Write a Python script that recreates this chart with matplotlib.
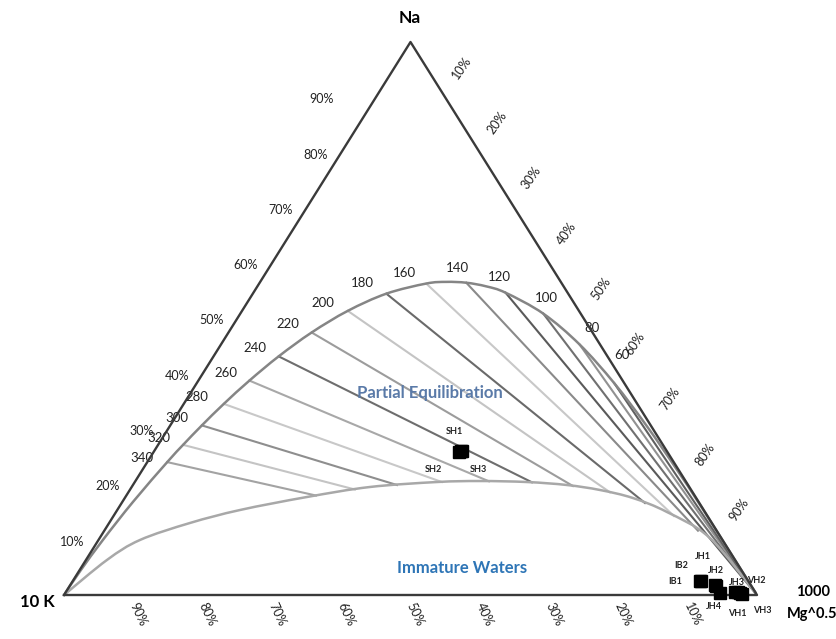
import matplotlib
matplotlib.use('Agg')
import matplotlib.pyplot as plt
from matplotlib.path import Path
from matplotlib.patches import PathPatch
import numpy as np

plt.rcParams['font.family'] = ['Lato', 'DejaVu Sans']

# ternary fractions: na = Na/1000, mg = Mg^0.5, K/100 is the rest
# full equilibrium curve, from the 10K corner to the Mg corner
eq_na = [0, 0.0454, 0.0998, 0.1686, 0.2403, 0.2715, 0.3067, 0.3456, 0.3877, 0.4315,
         0.4747, 0.5138, 0.5449, 0.5632, 0.5662, 0.5647, 0.5582, 0.5466, 0.5088,
         0.4531, 0.3832, 0.3056, 0.2273, 0.1558, 0]
eq_mg = [0, 0.0018, 0.0064, 0.0154, 0.0288, 0.0361, 0.0456, 0.0578, 0.0737, 0.0940,
         0.1200, 0.1526, 0.1927, 0.2411, 0.2686, 0.2981, 0.3299, 0.3639, 0.4372,
         0.5174, 0.6023, 0.6881, 0.7704, 0.8435, 1]

# immature waters boundary
low_na = [0, 0.0633, 0.0995, 0.1302, 0.1537, 0.1772, 0.1953, 0.2043, 0.2061,
          0.2043, 0.1989, 0.1899, 0.1754, 0.1501, 0.1031, 0]
low_mg = [0, 0.0303, 0.0599, 0.1166, 0.1771, 0.2619, 0.3437, 0.4359, 0.4971,
          0.5658, 0.6263, 0.6784, 0.7332, 0.7950, 0.8805, 1]

# K-Na isotherms (deg C): start on the equilibrium curve, end on the lower curve
temps = [340, 320, 300, 280, 260, 240, 220, 200, 180, 160, 140, 120, 100, 80, 60]
iso_na = [0.2403, 0.2715, 0.3067, 0.3456, 0.3877, 0.4315, 0.4747, 0.5138, 0.5449,
          0.5632, 0.5647, 0.5466, 0.5088, 0.4531, 0.3832]
iso_mg = [0.0288, 0.0361, 0.0456, 0.0578, 0.0737, 0.0940, 0.1200, 0.1526, 0.1927,
          0.2411, 0.2981, 0.3639, 0.4372, 0.5174, 0.6023]
end_na = [0.1799, 0.1908, 0.1989, 0.2043, 0.2056, 0.2038, 0.1971, 0.1857, 0.1664,
          0.1429, 0.1163, 0, 0, 0, 0]
end_mg = [0.2736, 0.3244, 0.3810, 0.4431, 0.5104, 0.5733, 0.6358, 0.6950, 0.7551,
          0.8087, 0.8567, 1, 1, 1, 1]

# samples
names = ['SH1', 'SH2', 'SH3', 'IB1', 'IB2', 'JH1', 'JH2', 'JH3', 'JH4', 'VH1', 'VH2', 'VH3']
s_na = [0.2604, 0.2590, 0.2598, 0.0253, 0.0262, 0.0181, 0.0165, 0.0054, 0.0036, 0.0036, 0.0060, 0.0018]
s_mg = [0.4425, 0.4410, 0.4440, 0.9065, 0.9050, 0.9303, 0.9320, 0.9655, 0.9447, 0.9736, 0.9700, 0.9775]

pct = [10, 20, 30, 40, 50, 60, 70, 80, 90]


def xy(na, mg):
    na = np.asarray(na, dtype=float)
    mg = np.asarray(mg, dtype=float)
    return mg + na / 2, na


def smooth(x, y):
    # excel-like smoothed line through the points
    pts = np.column_stack([x, y])
    verts = [pts[0]]
    codes = [Path.MOVETO]
    n = len(pts)
    for i in range(n - 1):
        p0 = pts[max(i - 1, 0)]
        p1 = pts[i]
        p2 = pts[i + 1]
        p3 = pts[min(i + 2, n - 1)]
        verts += [p1 + (p2 - p0) / 6, p2 - (p3 - p1) / 6, p2]
        codes += [Path.CURVE4] * 3
    return Path(verts, codes)


fig = plt.figure(figsize=(8.37, 6.39), dpi=100)
ax = fig.add_axes([64 / 837, 44 / 639, 693 / 837, 553 / 639])
ax.set_xlim(0, 1)
ax.set_ylim(0, 1)
ax.axis('off')

iso_colors = ['#a3a3a3', '#c4c4c4', '#8e8e8e', '#c8c8c8', '#a8a8a8', '#6e6e6e', '#9c9c9c',
              '#c4c4c4', '#6a6a6a', '#c8c8c8', '#8a8a8a', '#5a5a5a', '#707070', '#919191', '#606060']
lab_off = [(-25, 4), (-24, 7), (-25, 7), (-27, 7), (-23, 8), (-24, 8), (-24, 8), (-25, 8),
           (-24, 11), (-22, 11), (-9, 15), (-6, 16), (3, 16), (12, 16), (8, 28)]

for i, t in enumerate(temps):
    x0, y0 = xy(iso_na[i], iso_mg[i])
    x1, y1 = xy(end_na[i], end_mg[i])
    ax.plot([x0, x1], [y0, y1], color=iso_colors[i], lw=1.5, zorder=1)
    ax.annotate(str(t), (x0, y0), xytext=lab_off[i], textcoords='offset pixels',
                ha='center', va='center', fontsize=9.5, color='#222222')

x, y = xy(eq_na, eq_mg)
ax.add_patch(PathPatch(smooth(x, y), fill=False, edgecolor='#858585', lw=1.8, zorder=2))
x, y = xy(low_na, low_mg)
ax.add_patch(PathPatch(smooth(x, y), fill=False, edgecolor='#a8a8a8', lw=1.8, zorder=2))

# triangle
x, y = xy([0, 1, 0, 0], [0, 0, 1, 0])
ax.plot(x, y, color='#3a3a3a', lw=1.7, zorder=3, clip_on=False)

# edge percentages
for p in pct:
    f = p / 100
    x, y = xy(f, 0)
    off = (-54, -2) if p == 90 else (-26, -2)
    ax.annotate(f'{p}%', (x, y), xytext=off, textcoords='offset pixels',
                ha='center', va='center', fontsize=9, color='#222222')
    x, y = xy(1 - f, f)
    ax.annotate(f'{p}%', (x, y), xytext=(17, 30), textcoords='offset pixels',
                ha='center', va='center', fontsize=9, rotation=55, color='#222222')
    x, y = xy(0, f)
    ax.annotate(f'{100 - p}%', (x, y), xytext=(5, -19), textcoords='offset pixels',
                ha='center', va='center', fontsize=9, rotation=-65, color='#222222')

# samples
s_off = [(-6, 19), (-26, -18), (17, -18), (-26, 0), (-19, 15), (-12, 28),
         (0, 15), (2, 10), (-6, -13), (-3, -20), (18, 11), (20, -16)]
x, y = xy(s_na, s_mg)
ax.plot(x, y, 's', color='black', ms=8, zorder=5, clip_on=False)
for i, n in enumerate(names):
    ax.annotate(n, (x[i], y[i]), xytext=s_off[i], textcoords='offset pixels',
                ha='center', va='center', fontsize=6.5, fontweight='bold', color='#222222')

fig.text(410 / 837, 1 - 18 / 639, 'Na', ha='center', va='center', fontsize=12.5, fontweight='bold')
fig.text(37 / 837, 1 - 602 / 639, '10 K', ha='center', va='center', fontsize=12, fontweight='bold')
fig.text(813 / 837, 1 - 592 / 639, '1000', ha='center', va='center', fontsize=10.5, fontweight='bold')
fig.text(812 / 837, 1 - 614 / 639, 'Mg^0.5', ha='center', va='center', fontsize=10.5, fontweight='bold')
fig.text(430 / 837, 1 - 393 / 639, 'Partial Equilibration', ha='center', va='center',
         fontsize=12, fontweight='bold', color='#5a7aa8')
fig.text(462 / 837, 1 - 568 / 639, 'Immature Waters', ha='center', va='center',
         fontsize=12, fontweight='bold', color='#2e75b6')

fig.savefig('out.png', dpi=100)
